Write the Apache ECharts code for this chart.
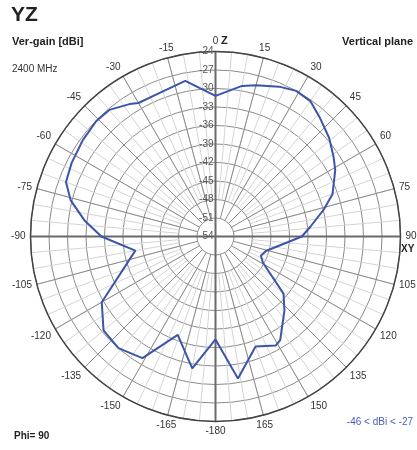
<!DOCTYPE html>
<html>
<head>
<meta charset="utf-8">
<style>
  html, body { margin: 0; padding: 0; background: #fff; }
  #chart { width: 417px; height: 450px; }
</style>
<script src="https://cdn.jsdelivr.net/npm/echarts@6/dist/echarts.min.js"></script>
</head>
<body>
<div id="chart"></div>
<script>
// angles in degrees, clockwise from Z (0..360), gain in dBi
var angles = [0, 10, 15, 23, 29, 35, 41, 49, 56, 61, 70, 76, 84, 90, 106, 113, 119, 130, 137, 148, 151, 160, 171, 180,
  190, 201, 211, 221, 230, 240, 260, 270, 277, 284, 290, 297, 306, 314, 320, 327, 330, 339, 349, 360];
var gains = [-31.2, -29.2, -28.6, -27.6, -27.0, -27.2, -28.3, -29.6, -30.9, -31.8, -33.8, -35.9, -38.5, -40.0, -45.5, -46.0, -45.2, -39.6, -37.6, -34.2, -33.8, -35.0, -30.7, -37.3,
  -32.3, -36.9, -31.0, -30.0, -30.3, -32.7, -40.8, -35.5, -32.6, -29.8, -28.2, -27.8, -27.4, -27.1, -27.2, -28.4, -29.0, -29.0, -28.3, -31.2];
var radMin = -54, radMax = -24, radStep = 3;

var chart = echarts.init(document.getElementById('chart'));

var cx = 215.5, cy = 236.5, R = 185;
var ringW = R / ((radMax - radMin) / radStep);

var data = [];
for (var i = 0; i < angles.length; i++) {
  data.push([gains[i], angles[i]]);
}

function hiddenRadius(idx) {
  return {
    polarIndex: idx, type: 'value', min: 0, max: 1,
    axisLine: { show: false }, axisTick: { show: false }, axisLabel: { show: false }, splitLine: { show: false }
  };
}
function spokeAngle(idx, step, color, width) {
  return {
    polarIndex: idx, type: 'value', min: 0, max: 360, interval: step, startAngle: 90, clockwise: true,
    axisLine: { show: false }, axisTick: { show: false }, axisLabel: { show: false },
    splitLine: { show: true, lineStyle: { color: color, width: width } }
  };
}

var option = {
  animation: false,
  polar: [
    { center: [cx, cy], radius: [0, R] },
    { center: [cx, cy], radius: [ringW * 2, R] },
    { center: [cx, cy], radius: [ringW, R] },
    { center: [cx, cy], radius: [0, R] }
  ],
  angleAxis: [
    {
      polarIndex: 0, type: 'value', min: 0, max: 360, interval: 15, startAngle: 90, clockwise: true,
      axisLine: { show: true, lineStyle: { color: '#444', width: 1.5 } },
      axisTick: { show: false },
      splitLine: { show: false },
      axisLabel: {
        margin: 5, color: '#333', fontSize: 10, fontFamily: 'Liberation Sans',
        formatter: function (v) {
          if (v === 360) return '';
          if (v === 180) return '-180';
          return String(v > 180 ? v - 360 : v);
        }
      }
    },
    spokeAngle(1, 5, '#d4d4d4', 1),
    spokeAngle(2, 15, '#8a8a8a', 1),
    spokeAngle(3, 90, '#6a6a6a', 2)
  ],
  radiusAxis: [
    {
      polarIndex: 0, type: 'value', min: radMin, max: radMax, interval: radStep,
      axisLine: { show: false }, axisTick: { show: false },
      axisLabel: { show: true, color: '#555', fontSize: 10, fontFamily: 'Liberation Sans', margin: 2 },
      splitLine: { show: true, lineStyle: { color: '#8a8a8a', width: 1 } }
    },
    hiddenRadius(1),
    hiddenRadius(2),
    hiddenRadius(3)
  ],
  series: [{
    type: 'line',
    coordinateSystem: 'polar',
    polarIndex: 0,
    data: data,
    symbol: 'none',
    lineStyle: { color: '#3b55a8', width: 2 },
    z: 10
  }],
  graphic: [
    { type: 'text', left: 11, top: 5, style: { text: 'YZ', font: 'bold 21px "Liberation Sans"', fill: '#222' } },
    { type: 'text', left: 12, top: 36, style: { text: 'Ver-gain [dBi]', font: 'bold 11px "Liberation Sans"', fill: '#222' } },
    { type: 'text', right: 4, top: 36, style: { text: 'Vertical plane', font: 'bold 11px "Liberation Sans"', fill: '#222' } },
    { type: 'text', left: 12, top: 64, style: { text: '2400 MHz', font: '10px "Liberation Sans"', fill: '#333' } },
    { type: 'text', left: 14, top: 431, style: { text: 'Phi= 90', font: 'bold 10px "Liberation Sans"', fill: '#222' } },
    { type: 'text', right: 4, top: 417, style: { text: '-46 < dBi < -27', font: '10px "Liberation Sans"', fill: '#4a5cc0' } },
    { type: 'text', left: 221, top: 35, style: { text: 'Z', font: 'bold 11px "Liberation Sans"', fill: '#222' } },
    { type: 'text', left: 401, top: 244, style: { text: 'XY', font: 'bold 10px "Liberation Sans"', fill: '#222' } }
  ]
};
chart.setOption(option);
</script>
</body>
</html>
